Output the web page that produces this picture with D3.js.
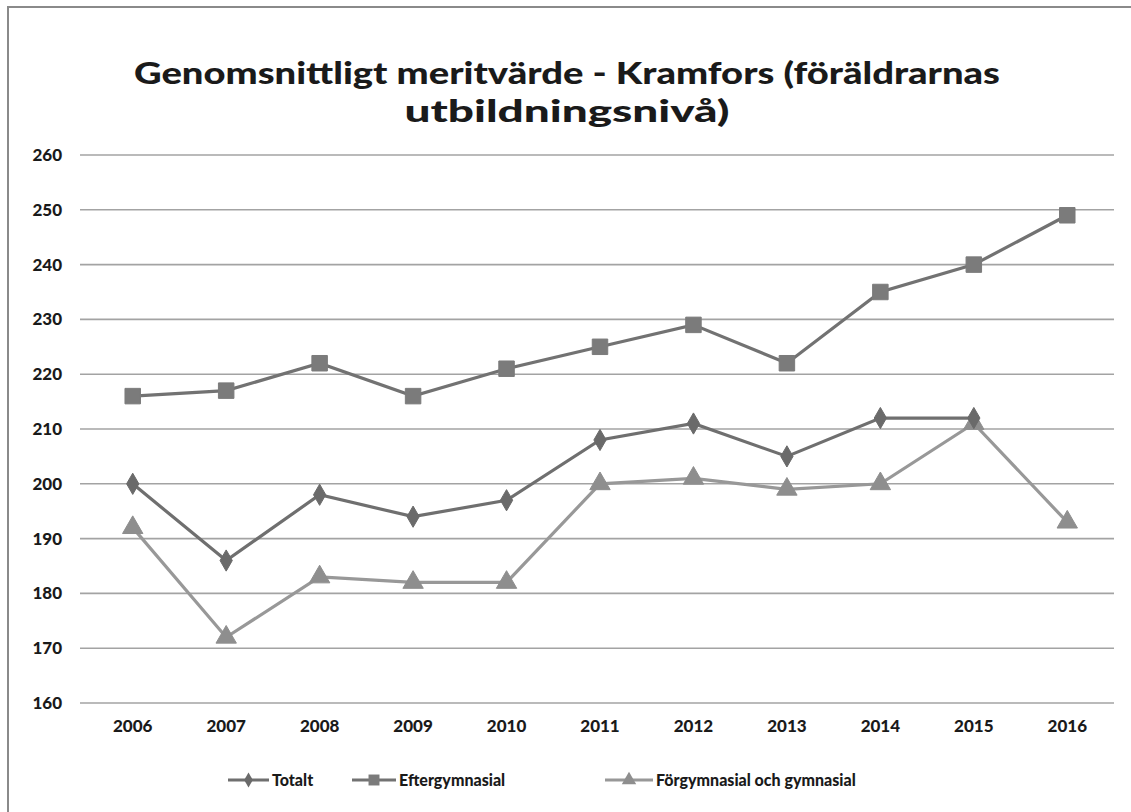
<!DOCTYPE html>
<html><head><meta charset="utf-8">
<script src="https://cdn.jsdelivr.net/npm/d3@7"></script>
<style>body{margin:0;background:#fff}svg{display:block}</style>
</head><body>
<svg id="c" width="1131" height="812"></svg>
<script>
const years = ["2006","2007","2008","2009","2010","2011","2012","2013","2014","2015","2016"];
const totalt = [200,186,198,194,197,208,211,205,212,212,null];
const efter = [216,217,222,216,221,225,229,222,235,240,249];
const forgym = [192,172,183,182,182,200,201,199,200,211,193];
const yTicks = [160,170,180,190,200,210,220,230,240,250,260];
const titleLines = ["Genomsnittligt meritvärde - Kramfors (föräldrarnas","utbildningsnivå)"];

const svg = d3.select("#c");
const font = "Lato, 'Open Sans', sans-serif";

// frame (top and left edges)
svg.append("path").attr("d","M8,812 L8,7 L1131,7").attr("fill","none").attr("stroke","#8a8a8a").attr("stroke-width",2);

const x = d3.scaleBand().domain(years).range([86,1114]);
const y = d3.scaleLinear().domain([160,260]).range([703,155]);
const cx = d => x(d)+x.bandwidth()/2;

// title
const tl = [{t:titleLines[0],y:84,w:866},{t:titleLines[1],y:122,w:325}];
tl.forEach(o=>{
  svg.append("text").attr("x",567).attr("y",o.y).attr("text-anchor","middle")
    .attr("font-family",font).attr("font-weight","900").attr("font-size",31)
    .attr("fill","#1a1a1a").attr("textLength",o.w).attr("lengthAdjust","spacingAndGlyphs").text(o.t);
});

// gridlines
svg.append("g").selectAll("line").data(yTicks).join("line")
  .attr("x1",80).attr("x2",1114).attr("y1",d=>y(d)).attr("y2",d=>y(d))
  .attr("stroke","#a3a3a3").attr("stroke-width",1.6);

// y axis labels
const ya = svg.append("g").attr("transform","translate(62,0)")
  .call(d3.axisLeft(y).tickValues(yTicks).tickSize(0).tickPadding(0));
ya.select(".domain").remove();
ya.selectAll("text").attr("font-family",font).attr("font-weight","900").attr("font-size",17).attr("fill","#1a1a1a");

// x axis labels
const xa = svg.append("g").attr("transform","translate(0,720)")
  .call(d3.axisBottom(x).tickSize(0).tickPadding(0));
xa.select(".domain").remove();
xa.selectAll("text").attr("font-family",font).attr("font-weight","900").attr("font-size",17).attr("fill","#1a1a1a");

const series = [
  {name:"Totalt", vals:totalt, line:"#6f6f6f", mark:"#6a6a6a", sym:d3.symbolDiamond, size:130},
  {name:"Eftergymnasial", vals:efter, line:"#727272", mark:"#7b7b7b", sym:d3.symbolSquare, size:240},
  {name:"Förgymnasial och gymnasial", vals:forgym, line:"#989898", mark:"#8e8e8e", sym:d3.symbolTriangle, size:180}
];

const plotOrder = [series[2], series[0], series[1]];
plotOrder.forEach(s=>{
  const pts = years.map((yr,i)=>({yr,v:s.vals[i]})).filter(p=>p.v!=null);
  svg.append("path").datum(pts)
    .attr("d",d3.line().x(p=>cx(p.yr)).y(p=>y(p.v)))
    .attr("fill","none").attr("stroke",s.line).attr("stroke-width",3.2);
  svg.append("g").selectAll("path").data(pts).join("path")
    .attr("transform",p=>`translate(${cx(p.yr)},${y(p.v)})`)
    .attr("d",d3.symbol().type(s.sym).size(s.size)())
    .attr("fill",s.mark).attr("stroke",s.mark).attr("stroke-width",1);
});

// legend
const leg = [
  {s:series[0], lx:228, tx:272},
  {s:series[1], lx:352, tx:399},
  {s:series[2], lx:605, tx:656}
];
leg.forEach(o=>{
  const g = svg.append("g");
  g.append("line").attr("x1",o.lx).attr("x2",o.tx-3).attr("y1",780).attr("y2",780)
    .attr("stroke",o.s.line).attr("stroke-width",3);
  g.append("path").attr("transform",`translate(${(o.lx+o.tx-3)/2},780)`)
    .attr("d",d3.symbol().type(o.s.sym).size(o.s.size*0.5)()).attr("fill",o.s.mark);
  g.append("text").attr("x",o.tx).attr("y",786).attr("font-family",font).attr("font-weight","900")
    .attr("font-size",16).attr("fill","#1a1a1a").text(o.s.name);
});
</script>
</body></html>
